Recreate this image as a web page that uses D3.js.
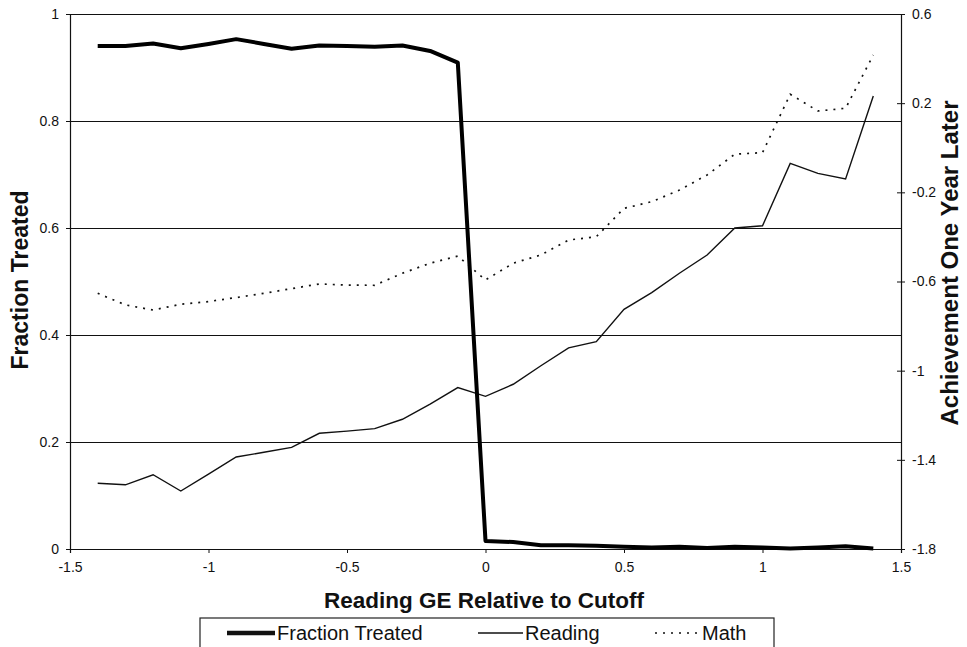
<!DOCTYPE html>
<html>
<head>
<meta charset="utf-8">
<script src="https://cdn.jsdelivr.net/npm/d3@7"></script>
<style>
  html, body { margin: 0; padding: 0; background: #fff; }
  svg { display: block; font-family: "Liberation Sans", Arial, sans-serif; }
</style>
</head>
<body>
<svg id="chart" width="967" height="647"></svg>
<script>
const xValues = [-1.4,-1.3,-1.2,-1.1,-1.0,-0.9,-0.8,-0.7,-0.6,-0.5,-0.4,-0.3,-0.2,-0.1,0.0,0.1,0.2,0.3,0.4,0.5,0.6,0.7,0.8,0.9,1.0,1.1,1.2,1.3,1.4];
const fractionTreated = [0.940,0.940,0.945,0.936,0.944,0.953,0.944,0.935,0.941,0.940,0.939,0.941,0.931,0.909,0.015,0.013,0.007,0.007,0.006,0.004,0.003,0.004,0.002,0.004,0.003,0.001,0.003,0.005,0.001];
const reading = [-1.505,-1.512,-1.467,-1.540,-1.464,-1.387,-1.366,-1.344,-1.281,-1.271,-1.260,-1.218,-1.150,-1.076,-1.115,-1.061,-0.978,-0.898,-0.870,-0.725,-0.650,-0.563,-0.481,-0.360,-0.350,-0.070,-0.115,-0.140,0.232];
const math = [-0.653,-0.705,-0.728,-0.702,-0.690,-0.672,-0.653,-0.632,-0.611,-0.616,-0.617,-0.563,-0.518,-0.486,-0.593,-0.518,-0.481,-0.414,-0.399,-0.272,-0.242,-0.190,-0.122,-0.029,-0.022,0.240,0.165,0.177,0.416];
const xTicks = [-1.5,-1,-0.5,0,0.5,1,1.5];
const leftTicks = [0,0.2,0.4,0.6,0.8,1];
const rightTicks = [-1.8,-1.4,-1,-0.6,-0.2,0.2,0.6];
const seriesNames = ["Fraction Treated","Reading","Math"];

const svg = d3.select("#chart");
const L = 70, R = 901, T = 14, B = 549;

const x = d3.scaleLinear().domain([-1.5,1.5]).range([L,R]);
const yL = d3.scaleLinear().domain([0,1]).range([B,T]);
const yR = d3.scaleLinear().domain([-1.8,0.6]).range([B,T]);

// gridlines
svg.append("g").selectAll("line").data(leftTicks.filter(d => d > 0)).join("line")
  .attr("x1", L).attr("x2", R).attr("y1", d => yL(d) + 0.5).attr("y2", d => yL(d) + 0.5)
  .attr("stroke", "#111").attr("stroke-width", 1.2);

const fmt = d => String(d);

// left axis
const gL = svg.append("g").attr("transform", `translate(${L},0)`)
  .call(d3.axisLeft(yL).tickValues(leftTicks).tickFormat(fmt).tickSize(4).tickPadding(7));
// right axis
const gR = svg.append("g").attr("transform", `translate(${R},0)`)
  .call(d3.axisRight(yR).tickValues(rightTicks).tickFormat(fmt).tickSize(4).tickPadding(7));
gR.selectAll(".tick line").attr("x1", -4);
// bottom axis
const gB = svg.append("g").attr("transform", `translate(0,${B})`)
  .call(d3.axisBottom(x).tickValues(xTicks).tickFormat(fmt).tickSize(4).tickPadding(9));

[gL, gR, gB].forEach(g => {
  g.select(".domain").attr("stroke", "#111").attr("stroke-width", 1.2);
  g.selectAll(".tick line").attr("stroke", "#111");
  g.selectAll("text").attr("font-size", 14).attr("fill", "#111")
    .attr("font-family", "'Liberation Sans', Arial, sans-serif");
});

// lines
const lineF = d3.line().x((d,i) => x(xValues[i])).y(d => yL(d));
const lineR = d3.line().x((d,i) => x(xValues[i])).y(d => yR(d));

svg.append("path").datum(math).attr("d", lineR).attr("fill","none")
  .attr("stroke","#111").attr("stroke-width",1.7).attr("stroke-dasharray","2,6");
svg.append("path").datum(reading).attr("d", lineR).attr("fill","none")
  .attr("stroke","#111").attr("stroke-width",1.4).attr("stroke-linejoin","miter");
svg.append("path").datum(fractionTreated).attr("d", lineF).attr("fill","none")
  .attr("stroke","#000").attr("stroke-width",4).attr("stroke-linejoin","round");

// axis titles
svg.append("text").attr("transform", `translate(28,280) rotate(-90)`)
  .attr("text-anchor","middle").attr("font-weight","bold").attr("font-size",23)
  .attr("fill","#111").text("Fraction Treated");
svg.append("text").attr("transform", `translate(958,263) rotate(-90)`)
  .attr("text-anchor","middle").attr("font-weight","bold").attr("font-size",24)
  .attr("fill","#111").text("Achievement One Year Later");
svg.append("text").attr("x", 484).attr("y", 608)
  .attr("text-anchor","middle").attr("font-weight","bold").attr("font-size",22.5)
  .attr("fill","#111").text("Reading GE Relative to Cutoff");

// legend
svg.append("rect").attr("x",200).attr("y",618).attr("width",574).attr("height",50)
  .attr("fill","none").attr("stroke","#222").attr("stroke-width",1.2);
const legendItems = [
  {name: seriesNames[0], x1: 227, x2: 275, w: 4.5, dash: null},
  {name: seriesNames[1], x1: 478, x2: 523, w: 1.4, dash: null},
  {name: seriesNames[2], x1: 655, x2: 700, w: 1.7, dash: "2,6"}
];
const lg = svg.append("g").selectAll("g").data(legendItems).join("g");
lg.append("line").attr("x1", d => d.x1).attr("x2", d => d.x2)
  .attr("y1", 633).attr("y2", 633).attr("stroke","#111")
  .attr("stroke-width", d => d.w).attr("stroke-dasharray", d => d.dash);
lg.append("text").attr("x", d => d.x2 + 2).attr("y", 640)
  .attr("font-size", 20).attr("fill","#111").text(d => d.name);
</script>
</body>
</html>
